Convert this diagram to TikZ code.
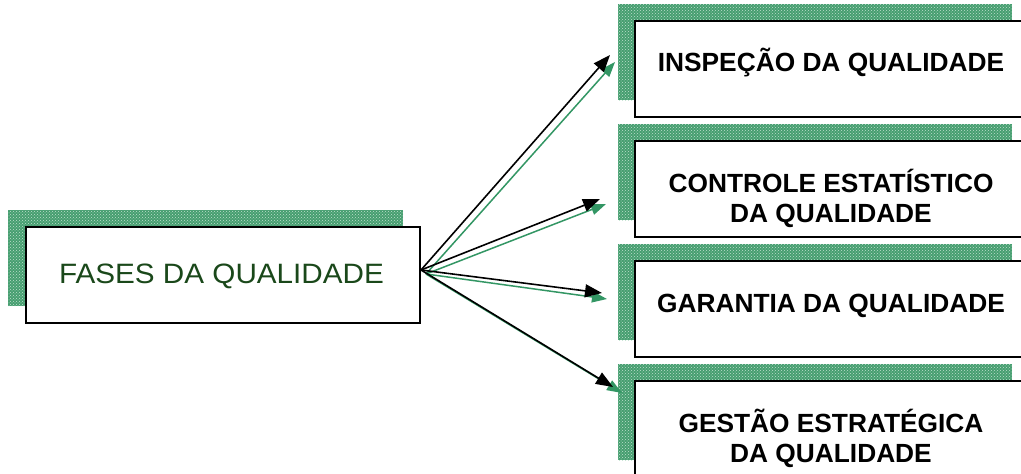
\documentclass[tikz,border=0pt]{standalone}
\usepackage{fontspec}
\setmainfont{Liberation Sans}
\newfontfamily\leftfont{Liberation Sans}[FakeStretch=1.06]
\newfontfamily\rightfont{Liberation Sans Bold}
\usetikzlibrary{arrows.meta,patterns}
\definecolor{shadowgreen}{RGB}{70,158,112}
\definecolor{speckle}{RGB}{190,225,205}
\definecolor{arrowgreen}{RGB}{51,150,100}
\definecolor{textgreen}{RGB}{26,72,26}
\tikzset{
  shadowbox/.style={fill=shadowgreen, draw=none, postaction={pattern=crosshatch dots, pattern color=speckle}},
  mainbox/.style={draw=black, line width=1.5pt, fill=white, minimum width=394pt, minimum height=96pt, inner sep=0pt, anchor=north west},
  lefttext/.style={font=\leftfont\fontsize{28}{32}\selectfont, text=textgreen, inner sep=0pt, anchor=base},
  righttext/.style={font=\rightfont\fontsize{26.3}{30}\selectfont, text=black, inner sep=0pt, anchor=base},
  blackarrow/.style={draw=black, line width=1.6pt, -{Triangle[length=17pt,width=13pt]}},
  greenarrow/.style={draw=arrowgreen, line width=1.5pt, -{Triangle[length=15pt,width=11pt]}}
}
\begin{document}
\begin{tikzpicture}[x=1pt,y=-1pt]
\useasboundingbox (0,0) rectangle (1021,474);
\begin{scope}
\clip (0,0) rectangle (1021,474);
% left box
\path[shadowbox] (8,210) rectangle (403,306);
\node[mainbox] (fases) at (25,226) {};
\node[lefttext] (fasest) at (221.5,283) {FASES DA QUALIDADE};
% right boxes
\foreach \t/\n in {20/b1,140/b2,260/b3,380/b4}{
  \path[shadowbox] (618,\t-16) rectangle (1012,\t+80);
  \node[mainbox] (\n) at (634,\t) {};
}
\node[righttext] (t1) at (831,71) {INSPEÇÃO DA QUALIDADE};
\node[righttext] (t2a) at (831,192) {CONTROLE ESTATÍSTICO};
\node[righttext] (t2b) at (831,222) {DA QUALIDADE};
\node[righttext] (t3) at (831,312) {GARANTIA DA QUALIDADE};
\node[righttext] (t4a) at (831,432) {GESTÃO ESTRATÉGICA};
\node[righttext] (t4b) at (831,462) {DA QUALIDADE};
% arrows
\coordinate (o) at (421,270);
\coordinate (og) at (426,274);
\coordinate (k1) at (610,55);
\coordinate (k2) at (600,199);
\coordinate (k3) at (602,293);
\coordinate (k4) at (613,387);
\coordinate (g1) at (615,62);
\coordinate (g2) at (606,204);
\coordinate (g3) at (607,299);
\coordinate (g4) at (622,393);
\foreach \i in {1,2,3,4}{
  \draw[greenarrow] (og) -- (g\i);
}
\foreach \i in {1,2,3,4}{
  \draw[blackarrow] (o) -- (k\i);
}
\end{scope}
\end{tikzpicture}
\end{document}
